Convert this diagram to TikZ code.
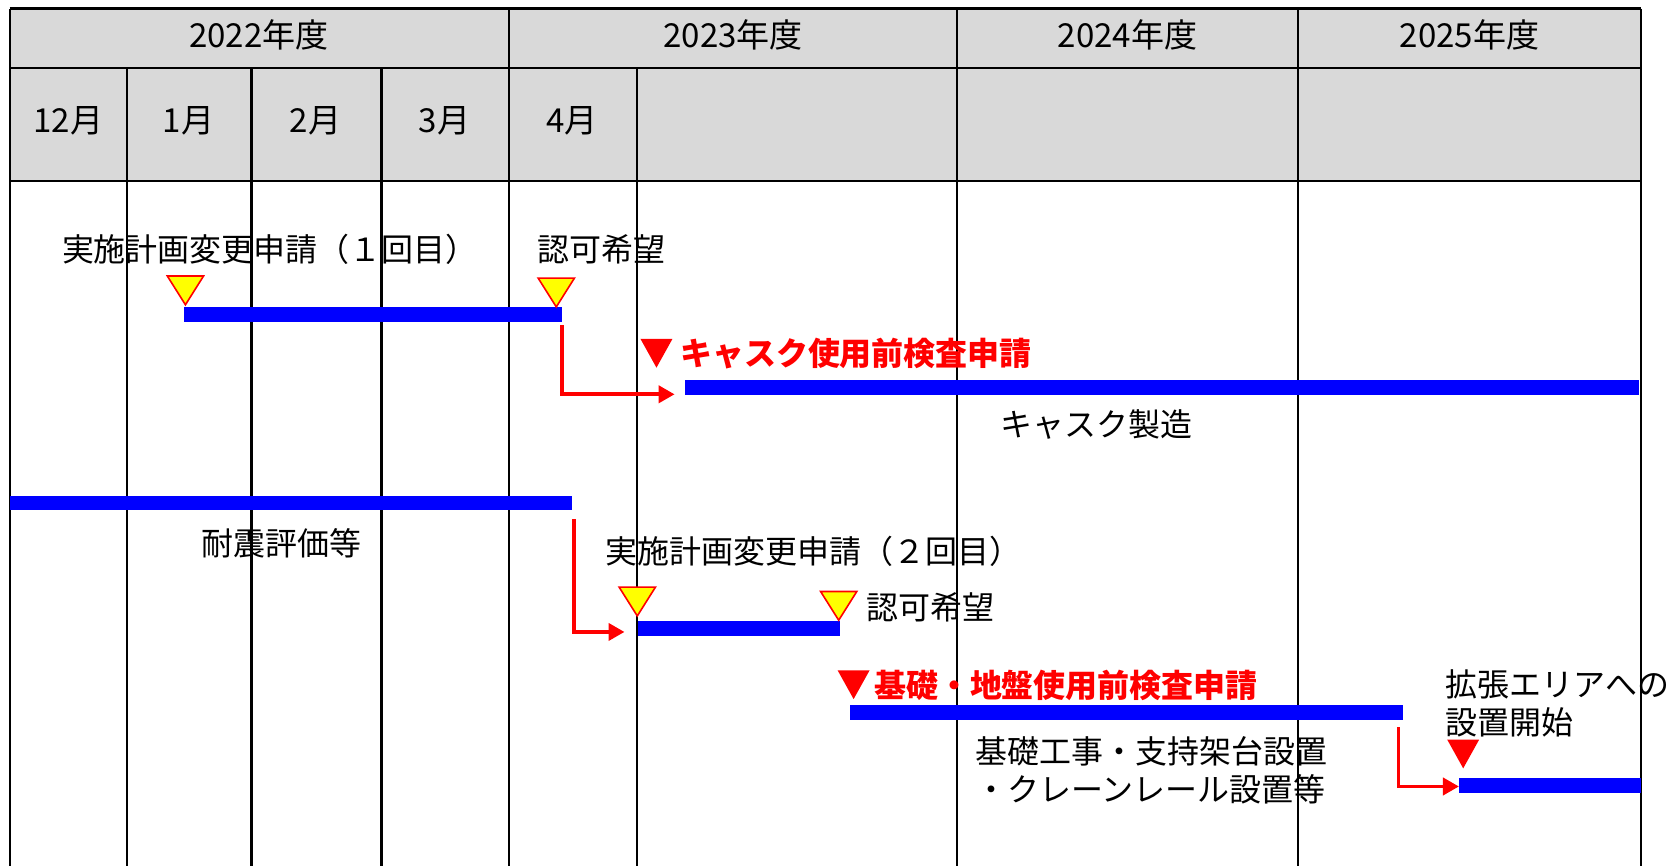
\documentclass[tikz,border=0pt]{standalone}
\usepackage{fontspec}
\setmainfont{Noto Sans CJK JP}
\usetikzlibrary{arrows.meta}
\definecolor{hdr}{HTML}{D9D9D9}
\definecolor{barblue}{HTML}{0000FF}
\definecolor{mkred}{HTML}{FF0000}
\definecolor{mkyel}{HTML}{FFFF00}
\tikzset{
  grid/.style={line width=2pt, black},
  lbl/.style={font=\fontsize{30}{36}\selectfont, inner sep=0pt, text=black},
  hlbl/.style={font=\fontsize{31}{36}\selectfont, inner sep=0pt, text=black},
  redlbl/.style={font=\fontsize{30}{36}\selectfont\bfseries, inner sep=0pt, text=mkred},
  bar/.style={fill=barblue, draw=none, minimum height=14pt, inner sep=0pt, anchor=west},
  flow/.style={draw=mkred, line width=3.5pt, -{Triangle[length=15pt,width=16pt]}},
  ymark/.pic={\draw[fill=mkyel, draw=mkred, line width=1.5pt, line join=miter] (0,0) -- (-17,-27) -- (17,-27) -- cycle;},
  rmark/.pic={\fill[mkred] (0,0) -- (-15,-27) -- (15,-27) -- cycle;}
}
\begin{document}
\begin{tikzpicture}[x=1pt,y=-1pt]
\useasboundingbox (0,0) rectangle (1568,813);
% header
\fill[hdr] (9,8) rectangle (1540,170);
\draw[grid] (9,8) -- (1540,8);
\draw[grid] (9,64) -- (1540,64);
\draw[grid] (9,170) -- (1540,170);
\foreach \x in {9,478,898,1218,1540} \draw[grid] (\x,8) -- (\x,813);
\foreach \x in {119,236,358,598} \draw[grid] (\x,64) -- (\x,813);
% header labels
\node[hlbl] (y22) at (243,33) {2022年度};
\node[hlbl] (y23) at (688,33) {2023年度};
\node[hlbl] (y24) at (1058,33) {2024年度};
\node[hlbl] (y25) at (1379,33) {2025年度};
\node[hlbl] (m12) at (64,113) {12月};
\node[hlbl] (m1) at (177,113) {1月};
\node[hlbl] (m2) at (296,113) {2月};
\node[hlbl] (m3) at (417,113) {3月};
\node[hlbl] (m4) at (537,113) {4月};
% bars
\node[bar, minimum width=355pt] (b1) at (172,295) {};
\node[bar, minimum width=895pt] (b2) at (643,364) {};
\node[bar, minimum width=528pt] (b3) at (9,472) {};
\node[bar, minimum width=190pt] (b4) at (598,590) {};
\node[bar, minimum width=519pt] (b5) at (797,669) {};
\node[bar, minimum width=171pt] (b6) at (1369,737) {};
% markers
\pic at (174,286) {ymark};
\pic at (522,288) {ymark};
\pic at (598,578) {ymark};
\pic at (787,582) {ymark};
\pic at (616,345) {rmark};
\pic at (801,656) {rmark};
\pic at (1373,721) {rmark};
% labels
\node[lbl, anchor=west] (t1) at (58,234) {実施計画変更申請（１回目）};
\node[lbl, anchor=west] (t2) at (504,234) {認可希望};
\node[redlbl, anchor=west] (t3) at (638,332) {キャスク使用前検査申請};
\node[lbl, anchor=west] (t4) at (939,398) {キャスク製造};
\node[lbl, anchor=west] (t5) at (189,510) {耐震評価等};
\node[lbl, anchor=west] (t6) at (568,517) {実施計画変更申請（２回目）};
\node[lbl, anchor=west] (t7) at (813,570) {認可希望};
\node[redlbl, anchor=west] (t8) at (820,643) {基礎・地盤使用前検査申請};
\node[lbl, anchor=west] (t9) at (915,705) {基礎工事・支持架台設置};
\node[lbl, anchor=west] (t10) at (915,741) {・クレーンレール設置等};
\node[lbl, anchor=west] (t11) at (1356,642) {拡張エリアへの};
\node[lbl, anchor=west] (t12) at (1356,678) {設置開始};
% flows
\coordinate (s1) at ([yshift=-3pt]b1.south east);
\draw[flow] (s1) |- ([xshift=-10pt,yshift=-6pt]b2.west);
\coordinate (s2) at ([xshift=1pt,yshift=-8pt]b3.south east);
\draw[flow] (s2) |- ([xshift=-12pt,yshift=-3pt]b4.west);
\coordinate (s3) at ([xshift=-4pt,yshift=-6pt]b5.south east);
\draw[flow] (s3) |- ([yshift=-1pt]b6.west);
\end{tikzpicture}
\end{document}
